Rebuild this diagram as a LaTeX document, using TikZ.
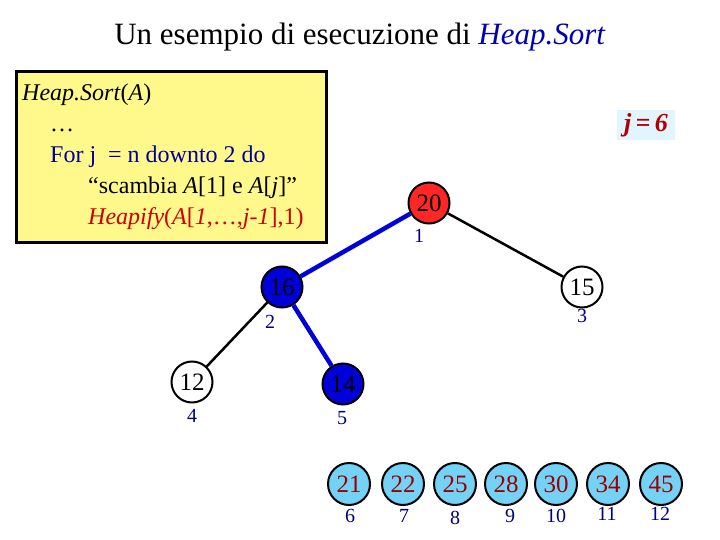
\documentclass[tikz,border=0pt]{standalone}
\usepackage{fontspec}
\setmainfont{Liberation Serif}
\begin{document}
\begin{tikzpicture}[x=1pt,y=-1pt,
 hn/.style={circle,draw=black,line width=2pt,minimum size=41pt,inner sep=0pt,font=\fontsize{25}{25}\selectfont},
 idx/.style={text=blue!50!black,font=\fontsize{20}{20}\selectfont},
 blk/.style={line width=2.5pt,black},
 blu/.style={line width=4.5pt,blue!85!black}]
\useasboundingbox (0,0) rectangle (720,540);
\node (title) at (360,37) {\fontsize{31}{31}\selectfont Un esempio di esecuzione di \textcolor{blue!70!black}{\textit{Heap.Sort}}};
\node (box) [draw=black,line width=3pt,fill=yellow!45,minimum width=310pt,minimum height=170pt] at (171,157) {};
\node (code) [anchor=north west,align=left,inner sep=0pt,font=\fontsize{24}{31}\selectfont] at (22,84) {%
\textit{Heap.Sort}(\textit{A})\\
\hspace{28pt}\ldots\\
\hspace{28pt}\textcolor{blue!60!black}{For j\ \ = n downto 2 do}\\
\hspace{66pt}``scambia \textit{A}[1] e \textit{A}[\textit{j}]''\\
\hspace{66pt}\textcolor{red!80!black}{\textit{Heapify}(\textit{A}[\textit{1},…,\textit{j-1}],1)}};
\node (jb) [fill=cyan!12,minimum width=58pt,minimum height=30pt,text=red!70!black,font=\fontsize{26}{26}\selectfont\bfseries\itshape] at (646,125) {j\,=\,6};
\node[hn,fill=red!85] (n1) at (429,203) {20};
\node[hn,fill=blue!85!black] (n2) at (282,287) {16};
\node[hn,fill=white] (n3) at (582,287) {15};
\node[hn,fill=white] (n4) at (192,382) {12};
\node[hn,fill=blue!85!black] (n5) at (343,384) {14};
\draw[blu] (n1) -- (n2);
\draw[blk] (n1) -- (n3);
\draw[blk] (n2) -- (n4);
\draw[blu] (n2) -- (n5);
\foreach \v/\x/\n in {21/349/6,22/403/7,25/455/8,28/506/9,30/556/10,34/608/11,45/661/12}
  \node[hn,fill=cyan!55,text=red!60!black,minimum size=42pt] (n\n) at (\x,484) {\v};
\node[idx] (i1) at (419,236) {1};
\node[idx] (i2) at (270,322) {2};
\node[idx] (i3) at (582,316) {3};
\node[idx] (i4) at (192,416) {4};
\node[idx] (i5) at (342,418) {5};
\node[idx] (i6) at (350,516) {6};
\node[idx] (i7) at (404,516) {7};
\node[idx] (i8) at (455,518) {8};
\node[idx] (i9) at (510,516) {9};
\node[idx] (i10) at (556,516) {10};
\node[idx] (i11) at (607,514) {11};
\node[idx] (i12) at (660,514) {12};
\end{tikzpicture}
\end{document}
